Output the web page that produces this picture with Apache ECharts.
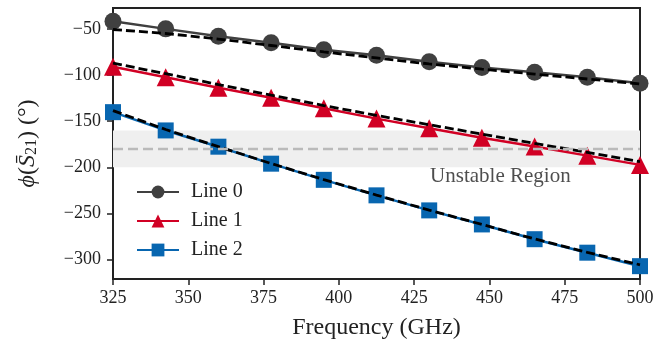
<!DOCTYPE html>
<html>
<head>
<meta charset="utf-8">
<script src="https://cdn.jsdelivr.net/npm/echarts@6/dist/echarts.min.js"></script>
<style>html,body{margin:0;padding:0;background:#fff;}#c{width:669px;height:349px;}</style>
</head>
<body>
<div id="c"></div>
<script>
// ---- data ----
const freq = [325, 342.5, 360, 377.5, 395, 412.5, 430, 447.5, 465, 482.5, 500];
const line0 = [-41.8, -50, -57.9, -65, -72.5, -78.6, -85.7, -91.8, -97.1, -102.5, -108.9];
const line1 = [-91, -102.3, -113.7, -124.7, -135.9, -147.2, -157.6, -168, -177.4, -187.3, -197.3];
const line2 = [-140.2, -160, -177.6, -196, -213.5, -230.3, -246.6, -261.8, -277.8, -292.4, -307];
const fit0 = [-50.7, -55, -61, -68, -75, -81.5, -88, -93.6, -99, -104.3, -109.6];
const fit1 = [-87.2, -98.5, -110.3, -121.8, -133, -143.8, -153.8, -163.9, -174, -183.8, -193.8];
const fit2 = [-138.5, -159, -177.5, -195.8, -213.2, -230, -246.3, -261.8, -277.5, -292, -305.5];
const seriesNames = ['Line 0', 'Line 1', 'Line 2'];
const xTicks = [325, 350, 375, 400, 425, 450, 475, 500];
const yTicks = [-300, -250, -200, -150, -100, -50];
const bandRange = [-160, -200];
const bandCenter = -180;
const annotation = {x: 430.3, y: -209.4, text: 'Unstable Region'};
const yRange = [-320.9, -27.4];

// ---- chart ----
const font = 'Liberation Serif';
const pair = (xs, ys) => xs.map((x, i) => [x, ys[i]]);
const minus = v => String(v).replace('-', '\u2212');

const chart = echarts.init(document.getElementById('c'), null, {renderer: 'canvas'});

const dataSeries = [
  {name: seriesNames[0], data: line0, color: '#404040', symbol: 'circle', size: 17},
  {name: seriesNames[1], data: line1, color: '#d10024', symbol: 'triangle', size: 18},
  {name: seriesNames[2], data: line2, color: '#0866b0', symbol: 'rect', size: 16}
].map(s => ({
  name: s.name,
  type: 'line',
  data: pair(freq, s.data),
  symbol: s.symbol,
  symbolSize: s.size,
  showSymbol: true,
  color: s.color,
  lineStyle: {color: s.color, width: 2.5},
  itemStyle: {color: s.color},
  z: 3,
  animation: false
}));

const fitSeries = [fit0, fit1, fit2].map((f, i) => ({
  name: 'fit' + i,
  type: 'line',
  data: pair(freq, f),
  symbol: 'none',
  lineStyle: {color: '#000', width: 2.8, type: [9, 4]},
  z: 4,
  silent: true,
  animation: false
}));

const helper = {
  name: 'band',
  type: 'line',
  data: [],
  z: 1,
  animation: false,
  markArea: {
    silent: true,
    itemStyle: {color: '#efefef'},
    data: [[{yAxis: bandRange[0]}, {yAxis: bandRange[1]}]]
  },
  markLine: {
    silent: true,
    symbol: 'none',
    label: {show: false},
    lineStyle: {color: '#bababa', width: 2.4, type: [10, 5]},
    data: [{yAxis: bandCenter}]
  }
};

const annot = {
  name: 'annot',
  type: 'scatter',
  data: [[annotation.x, annotation.y]],
  symbolSize: 0,
  z: 5,
  silent: true,
  animation: false,
  label: {
    show: true,
    position: 'right',
    distance: 0,
    formatter: annotation.text,
    fontFamily: font,
    fontSize: 21,
    color: '#222'
  }
};

chart.setOption({
  animation: false,
  backgroundColor: '#fff',
  grid: {left: 113, right: 29, top: 8, bottom: 70, show: true, borderColor: '#222', borderWidth: 2, backgroundColor: 'transparent'},
  legend: {
    data: seriesNames,
    orient: 'vertical',
    left: 131,
    top: 177,
    itemWidth: 42,
    itemHeight: 16,
    itemGap: 9,
    textStyle: {fontFamily: font, fontSize: 20, color: '#222', padding: [0, 0, 0, 7]}
  },
  xAxis: {
    type: 'value',
    min: 325,
    max: 500,
    interval: 25,
    name: 'Frequency (GHz)',
    nameLocation: 'middle',
    nameGap: 37,
    nameTextStyle: {fontFamily: font, fontSize: 24, color: '#222'},
    axisLine: {show: true, lineStyle: {color: '#222', width: 2}},
    axisTick: {show: true, length: 6, lineStyle: {color: '#222', width: 1.5}, customValues: xTicks},
    axisLabel: {fontFamily: font, fontSize: 18, color: '#222', margin: 10, customValues: xTicks},
    splitLine: {show: false}
  },
  yAxis: {
    type: 'value',
    min: yRange[0],
    max: yRange[1],
    name: '{i|ϕ}({i|S̄}{s|21}) (°)',
    nameLocation: 'middle',
    nameGap: 73,
    nameRotate: 90,
    nameTextStyle: {
      fontFamily: font, fontSize: 24, color: '#222',
      rich: {
        i: {fontFamily: font, fontSize: 24, fontStyle: 'italic', color: '#222'},
        s: {fontFamily: font, fontSize: 16, color: '#222', verticalAlign: 'bottom', padding: [9, 0, 0, 0]}
      }
    },
    axisLine: {show: true, lineStyle: {color: '#222', width: 2}},
    axisTick: {show: true, length: 6, lineStyle: {color: '#222', width: 1.5}, customValues: yTicks},
    axisLabel: {fontFamily: font, fontSize: 18, color: '#222', margin: 12, customValues: yTicks, formatter: v => minus(v)},
    splitLine: {show: false}
  },
  series: [helper, ...dataSeries, ...fitSeries, annot]
});
</script>
</body>
</html>
